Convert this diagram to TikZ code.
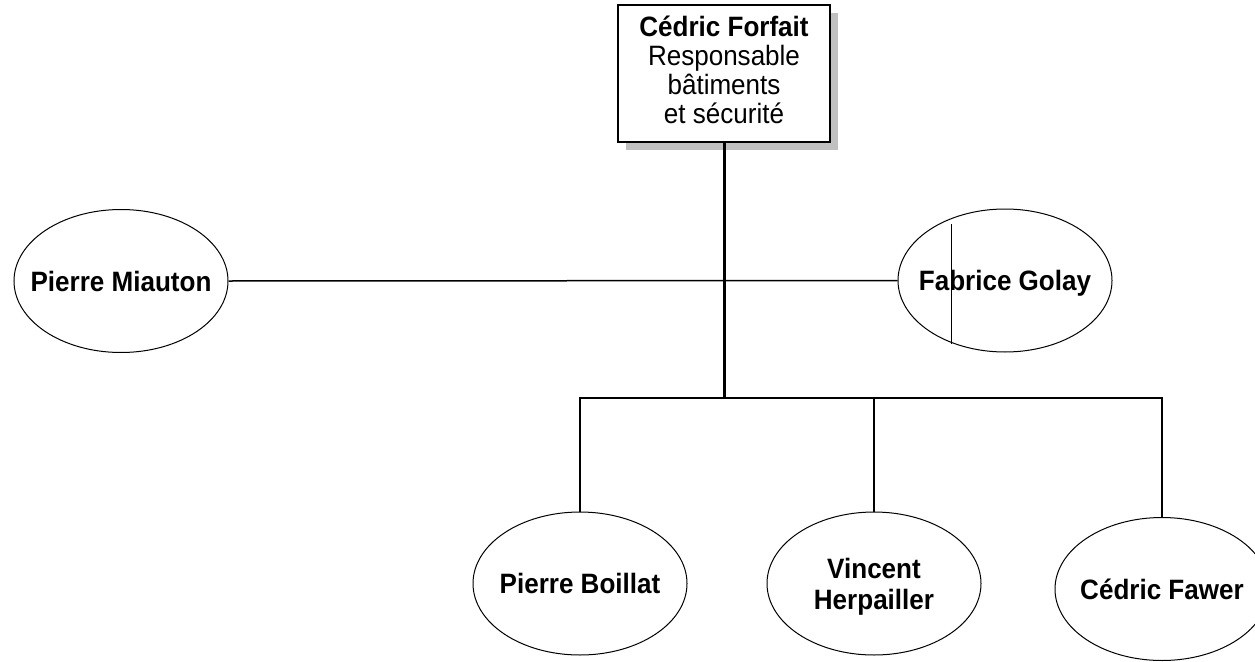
\documentclass[tikz,border=0pt]{standalone}
\usepackage{fontspec}
\setmainfont{Liberation Sans}[FakeStretch=0.93]
\usetikzlibrary{shapes.geometric,shadows}
\definecolor{shadowgray}{RGB}{192,192,192}

\tikzset{
  person/.style={ellipse, draw, line width=1pt, minimum width=214pt, minimum height=143pt,
    inner xsep=-30pt, inner ysep=0pt, text height=20pt, text depth=0pt,
    align=center, font=\fontsize{28}{28}\selectfont\bfseries},
  chef/.style={rectangle, draw, line width=1.3pt, fill=white, minimum width=212pt, minimum height=137pt,
    inner sep=0pt, text depth=8pt, align=center, font=\fontsize{28}{29}\selectfont,
    general shadow={fill=shadowgray, shadow xshift=8pt, shadow yshift=-8pt}},
  link/.style={line width=2pt},
}

\begin{document}
\begin{tikzpicture}[x=1pt,y=-1pt]
    \useasboundingbox (0,0) rectangle (1255,661);
    \node[chef] (forfait) at (724,73.5) {\textbf{Cédric Forfait}\\Responsable\\bâtiments\\ et sécurité};
    \node[person] (miauton) at (121,281) {Pierre Miauton};
    \node[person] (golay) at (1005,280.5) {Fabrice Golay};
    \node[person] (boillat) at (580,583.5) {Pierre Boillat};
    \node[person, text height=51pt] (herpailler) at (874,583.5) {Vincent\\[3pt]Herpailler};
    \node[person] (fawer) at (1162,589) {Cédric Fawer};
    \coordinate (bar) at (724,398);
    % liaisons
    \draw[line width=1.5pt] (miauton.east) -- (golay.west);
    \draw[line width=3pt] (forfait.south) -- (bar);
    \draw[link] (boillat.north) |- (bar) -| (fawer.north);
    \draw[link] (bar) -| (herpailler.north);
    \draw[line width=0.8pt] (951,224) -- (951,344);
\end{tikzpicture}
\end{document}
